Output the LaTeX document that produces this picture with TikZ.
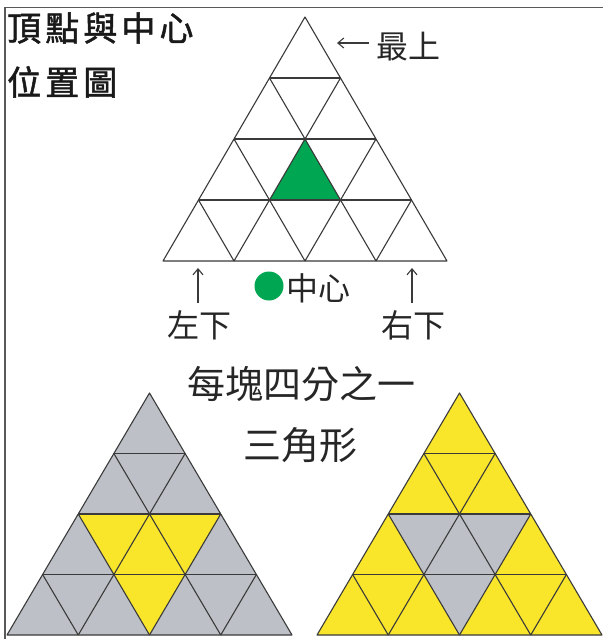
\documentclass[tikz,border=0pt]{standalone}
\usepackage{fontspec}
\setmainfont{Noto Sans CJK TC}
\usetikzlibrary{arrows.meta}
\definecolor{gr}{HTML}{00A651}
\definecolor{gy}{HTML}{BDC1C7}
\definecolor{yl}{HTML}{F9E52A}
\definecolor{ln}{HTML}{3A3A3A}
\newcommand{\mkgrid}[5]{%
  \foreach \i in {0,...,4}{\foreach \j in {0,...,\i}{%
    \coordinate (#1-\i-\j) at ({#2+(\j-\i/2)*#4/4},{#3+\i*#5/4});}}}
\newcommand{\drawgrid}[1]{%
  \draw[gridline] (#1-0-0) -- (#1-4-0) -- (#1-4-4) -- cycle;
  \foreach \k [evaluate=\k as \m using int(4-\k)] in {1,2,3}{%
    \draw[gridline] (#1-\k-0) -- (#1-\k-\k);
    \draw[gridline] (#1-\k-\k) -- (#1-4-\k);
    \draw[gridline] (#1-\k-0) -- (#1-4-\m);}}
\begin{document}
\begin{tikzpicture}[x=1pt,y=-1pt,
  gridline/.style={draw=ln,line width=1.1pt,line join=round},
  arr/.style={-{Straight Barb[length=6pt,width=10pt]},line width=1.1pt,draw=ln},
  lbl/.style={inner sep=0pt,text=black!85,font=\fontsize{32}{32}\selectfont},
  big/.style={inner sep=0pt,text=black!85,font=\fontsize{38}{38}\selectfont},
  ttl/.style={inner sep=0pt,text=black!90,anchor=west,
    font=\fontsize{34}{34}\selectfont\addfontfeature{LetterSpace=12,FakeBold=1.5}}]
\useasboundingbox (0,0) rectangle (603,639);
\fill[white] (0,0) rectangle (603,639);
% frame
\draw[draw=black!65,line width=1.6pt] (5,639) -- (5,7.5) -- (603,7.5);
% top triangle
\mkgrid{T}{305}{17}{284}{244}
\fill[gr] (T-2-1) -- (T-3-1) -- (T-3-2) -- cycle;
\drawgrid{T}
% bottom left
\mkgrid{L}{149.5}{393}{285}{242}
\fill[gy] (L-0-0) -- (L-4-0) -- (L-4-4) -- cycle;
\fill[yl] (L-2-0) -- (L-2-2) -- (L-4-2) -- cycle;
\drawgrid{L}
% bottom right
\mkgrid{R}{459.5}{393}{285}{242}
\fill[yl] (R-0-0) -- (R-4-0) -- (R-4-4) -- cycle;
\fill[gy] (R-2-0) -- (R-2-2) -- (R-4-2) -- cycle;
\drawgrid{R}
% titles
\node[ttl] (t1) at (7,28) {頂點與中心};
\node[ttl] (t2) at (7,82) {位置圖};
% top label
\node[lbl,anchor=west] (top) at (376,47) {最上};
\coordinate (aT0) at (369,43);
\coordinate (aT1) at (337,43);
\draw[arr] (aT0) -- (aT1);
% bottom labels
\node[lbl] (ll) at (199,325) {左下};
\coordinate (aL0) at (198,303);
\coordinate (aL1) at (198,268);
\draw[arr] (aL0) -- (aL1);
\node[lbl] (rl) at (413,325) {右下};
\coordinate (aR0) at (412,303);
\coordinate (aR1) at (412,268);
\draw[arr] (aR0) -- (aR1);
\node[circle,fill=gr,minimum size=29pt,inner sep=0pt] (dot) at (269,286) {};
\node[lbl,anchor=west] (ctr) at (286,288) {中心};
% middle text
\node[big] (m1) at (301,384) {每塊四分之一};
\node[big] (m2) at (300,445) {三角形};
\end{tikzpicture}
\end{document}
